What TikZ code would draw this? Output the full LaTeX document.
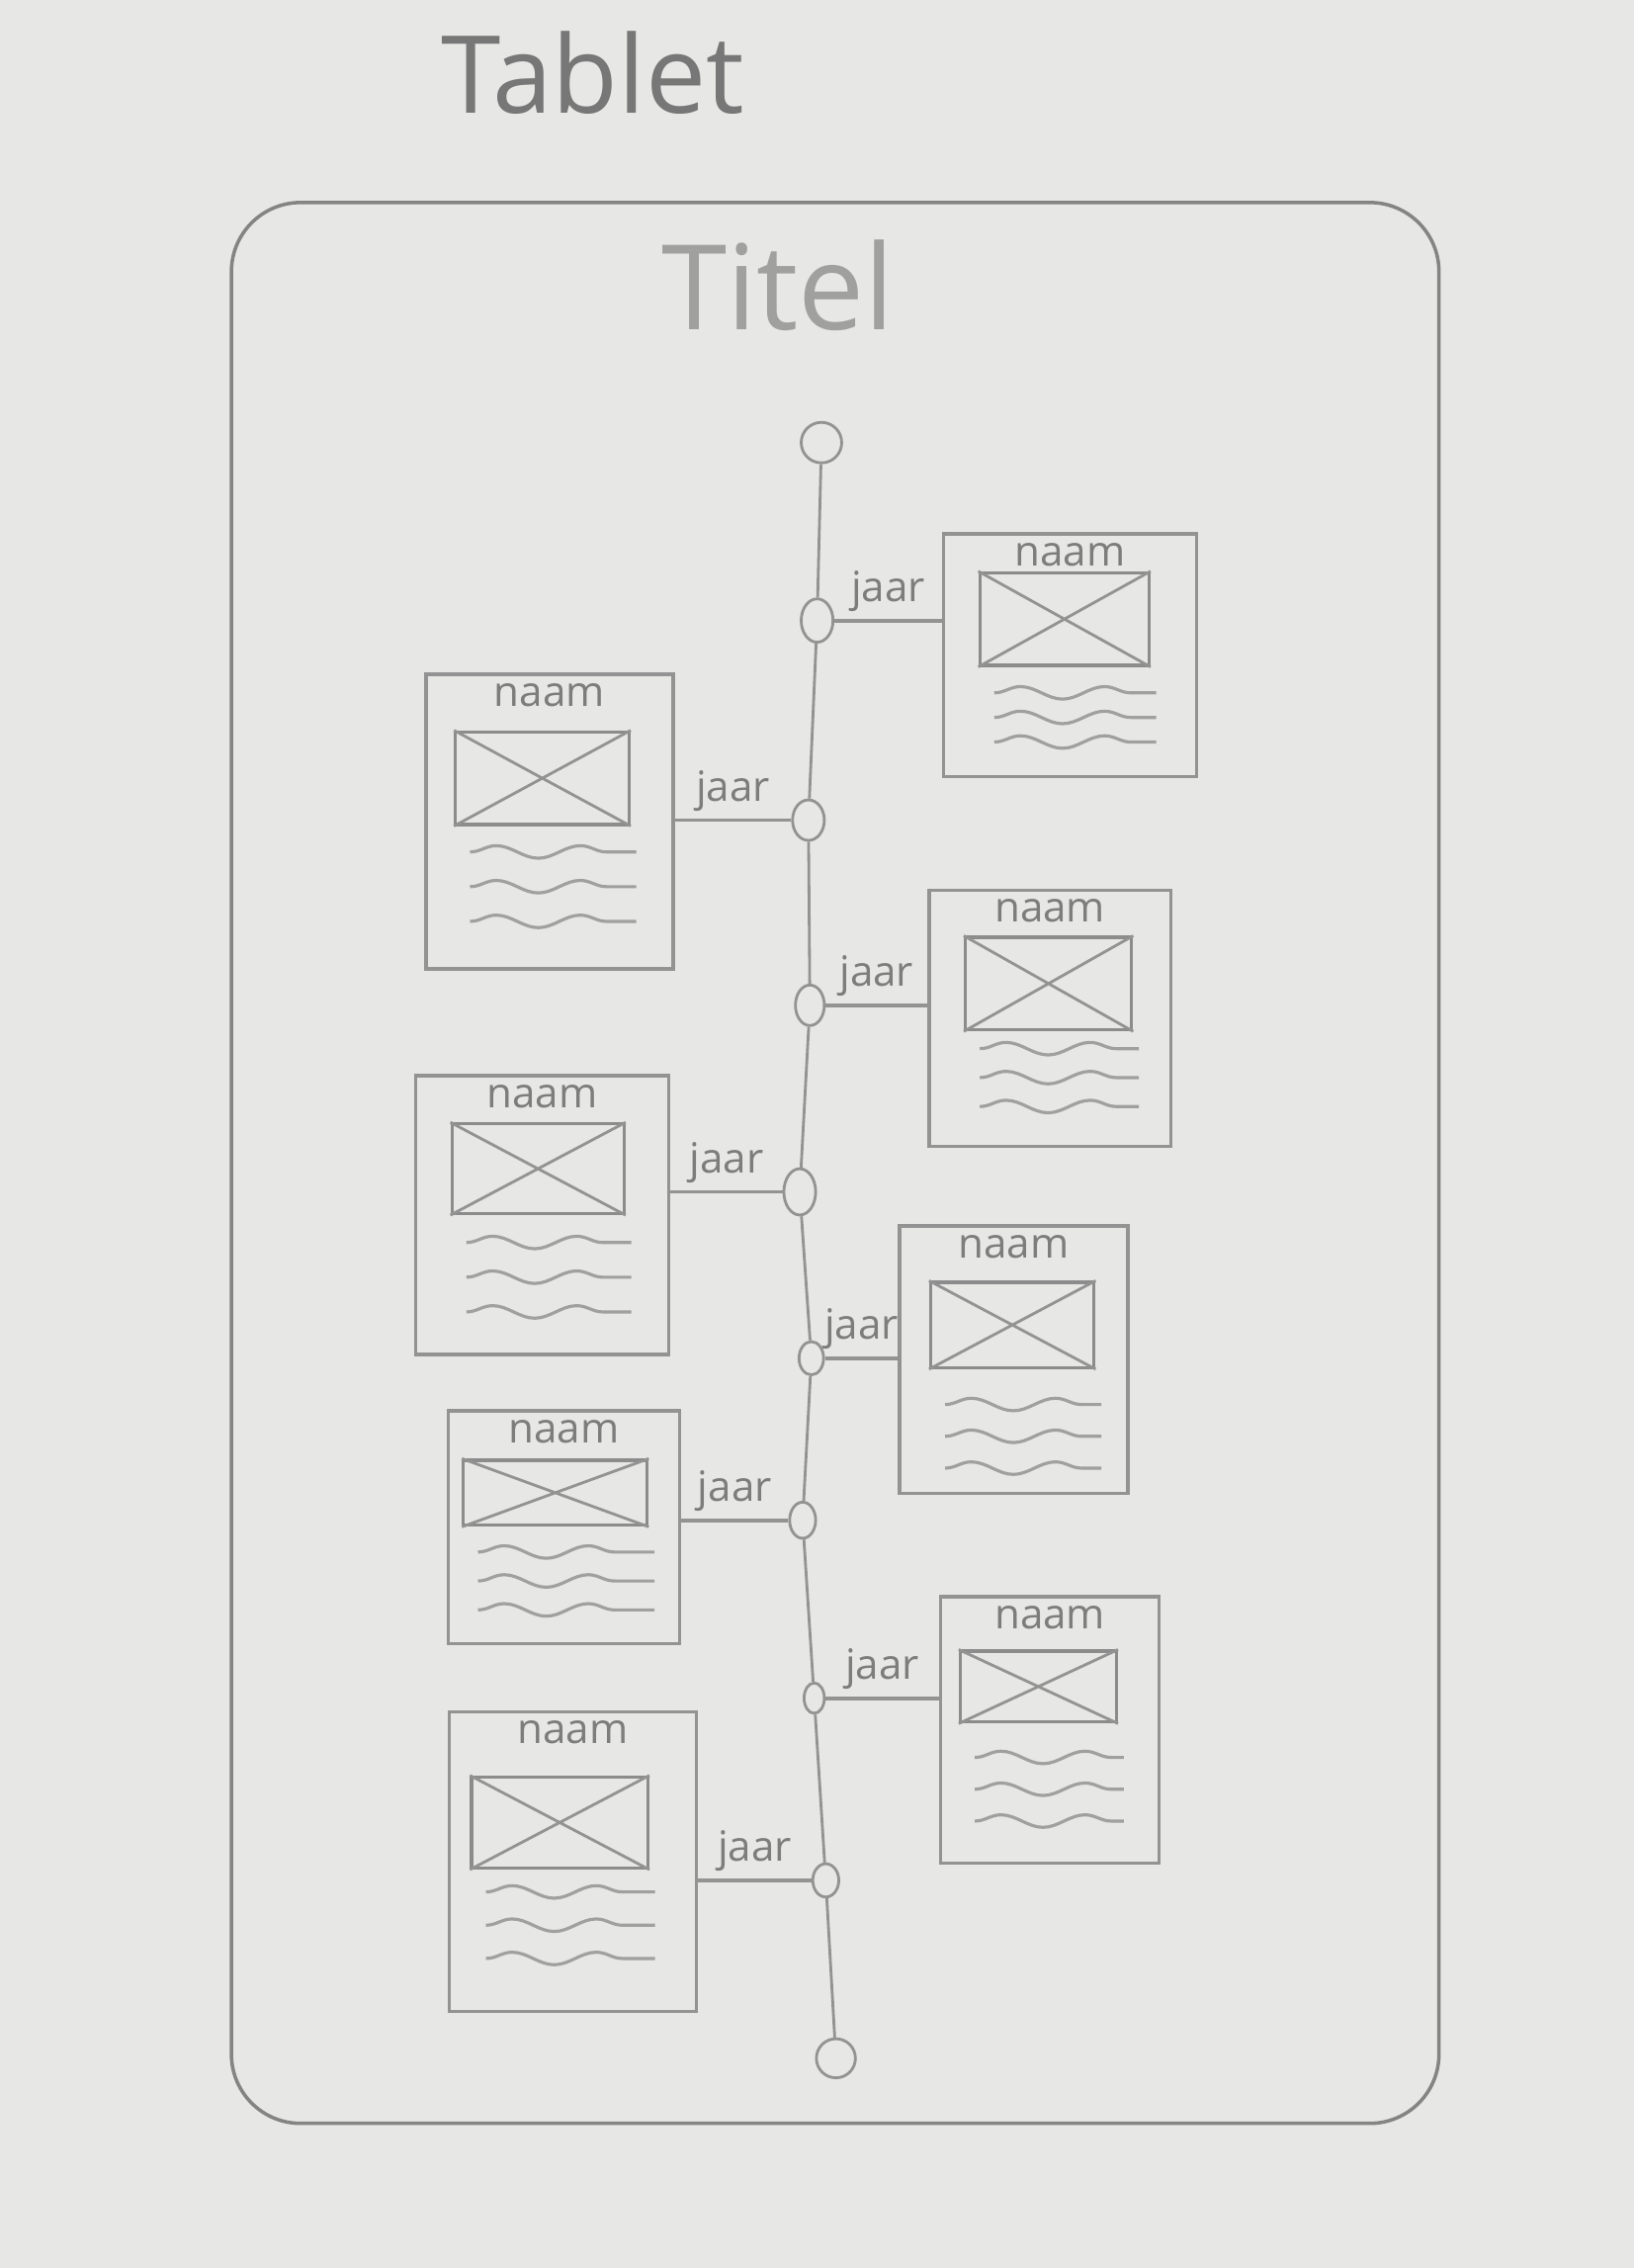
\documentclass[tikz,border=0pt]{standalone}
\usepackage{fontspec}
\setmainfont{Open Sans}
\usetikzlibrary{positioning,shapes.geometric,decorations.pathmorphing}

\definecolor{paper}{HTML}{E7E7E5}
\definecolor{pencil}{HTML}{939393}
\definecolor{darkpencil}{HTML}{777777}
\newcommand{\pxu}{0.14628mm}

\tikzset{
  tabletrand/.style={draw=pencil!90!black, line width=1pt, rounded corners=0.7cm},
  kaart/.style={draw=pencil, line width=1pt, inner sep=0pt},
  beeld/.style={draw=pencil!95!black, line width=0.9pt, inner sep=0pt},
  beeldkruis/.style={pencil, line width=0.8pt},
  golf/.style={pencil!85!paper, line width=0.9pt, decorate,
    decoration={snake, amplitude=1.8pt, segment length=0.85cm}},
  tijdpunt/.style={ellipse, draw=pencil, line width=0.8pt, inner sep=0pt},
  tijdlijn/.style={pencil, line width=0.8pt},
  lijn/.style={pencil, line width=1.1pt},
  naam/.style={text=pencil!85!black, font=\fontsize{12}{14}\selectfont, inner sep=1pt},
  jaar/.style={text=pencil!85!black, font=\fontsize{12}{14}\selectfont, inner sep=1pt},
  kop/.style={text=darkpencil, font=\fontsize{31}{36}\selectfont},
  titel/.style={text=pencil!85!paper, font=\fontsize{34}{40}\selectfont}
}

\begin{document}
\begin{tikzpicture}[x=\pxu, y=-\pxu]
    \fill[paper] (0,0) rectangle (1130,1568);

    % kop en titel
    \node[kop] (tablet) at (410,50) {Tablet};
    \node[titel] (titel) at (538,197) {Titel};

    % rand van de tablet
    \draw[tabletrand] (160,140) rectangle (995,1468);

    % tijdlijn
    \foreach \d/\x/\y/\w/\h in {start/568/306/28/28, d1/565/429/22/30, d2/559/567/22/28,
        d3/560/695/20/28, d4/553/824/22/32, d5/561/939/17/23, d6/555/1051/18/25,
        d7/563/1174/14/21, d8/571/1300/18/23, eind/578/1423/27/27}
      \node[tijdpunt, minimum width=\w*\pxu, minimum height=\h*\pxu] (\d) at (\x,\y) {};
    \draw[tijdlijn] (start) -- (d1) -- (d2) -- (d3) -- (d4) -- (d5) -- (d6) -- (d7) -- (d8) -- (eind);

    % kaarten
    \foreach \n/\cx/\cy/\w/\h/\ix/\iy/\iw/\ih/\wy/\ws in {
        r1/740/453/175/168/736/428/117/64/479/17,
        l1/380/568/171/204/375/538/120/64/589/24,
        r2/726/704/167/177/725/680/115/64/725/20,
        l2/375/840/175/193/372/808/119/62/859/24,
        r3/701/940/158/185/700/916/113/59/971/22,
        l3/390/1056/160/161/384/1032/127/45/1073/20,
        r4/726/1196/151/184/718/1166/108/49/1215/22,
        l4/396/1287/171/207/387/1260/122/63/1308/23}{
      \node[kaart, minimum width=\w*\pxu, minimum height=\h*\pxu] (\n) at (\cx,\cy) {};
      \node[naam, below=2pt of \n.north] (naam\n) {naam};
      \node[beeld, minimum width=\iw*\pxu, minimum height=\ih*\pxu] (beeld\n) at (\ix,\iy) {};
      \draw[beeldkruis] (beeld\n.north west) -- (beeld\n.south east)
                        (beeld\n.north east) -- (beeld\n.south west);
      \foreach \k in {0,1,2}
        \draw[golf] ({\ix-\iw/2+10},{\wy+\k*\ws}) -- ({\ix+\iw/2+5},{\wy+\k*\ws});
    }

    % verbindingen met jaartal
    \foreach \d/\n/\e in {d1/r1/west, d2/l1/east, d3/r2/west, d4/l2/east,
        d5/r3/west, d6/l3/east, d7/r4/west, d8/l4/east}
      \draw[lijn] (\d) -- (\d -| \n.\e) node[jaar, midway, above=1pt] (jaar\d) {jaar};

\end{tikzpicture}
\end{document}
